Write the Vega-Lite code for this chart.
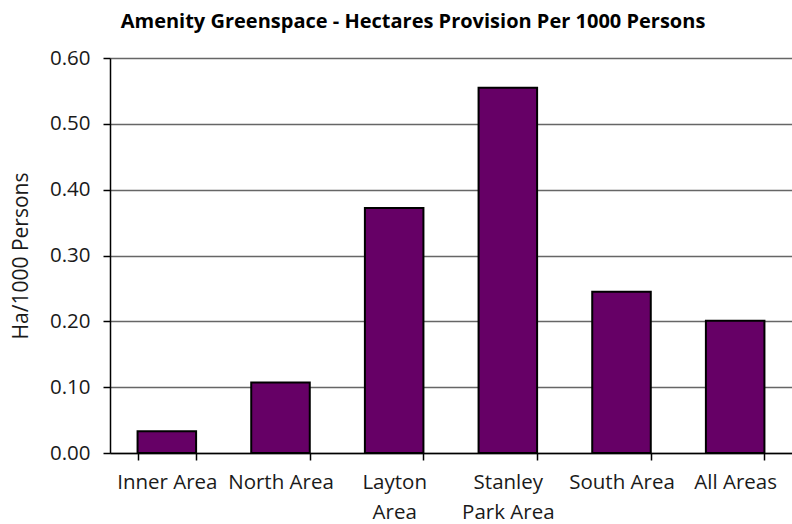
{
  "$schema": "https://vega.github.io/schema/vega-lite/v6.json",
  "width": 682,
  "height": 395,
  "autosize": {"type": "none"},
  "padding": {"left": 110, "top": 58, "right": 0, "bottom": 71},
  "background": "white",
  "title": {
    "text": "Amenity Greenspace - Hectares Provision Per 1000 Persons",
    "font": "Open Sans",
    "fontSize": 20,
    "fontWeight": "bold",
    "color": "#000000",
    "anchor": "middle",
    "dx": -38,
    "offset": 16
  },
  "data": {
    "values": [
      {"area": "Inner Area", "ha_per_1000": 0.033},
      {"area": "North Area", "ha_per_1000": 0.107},
      {"area": "Layton Area", "ha_per_1000": 0.372},
      {"area": "Stanley Park Area", "ha_per_1000": 0.555},
      {"area": "South Area", "ha_per_1000": 0.245},
      {"area": "All Areas", "ha_per_1000": 0.201}
    ]
  },
  "mark": {"type": "bar", "color": "#660066", "stroke": "#000000", "strokeWidth": 2},
  "encoding": {
    "x": {
      "field": "area",
      "type": "nominal",
      "sort": null,
      "scale": {"paddingInner": 0.485, "paddingOuter": 0.2425},
      "axis": {
        "title": null,
        "labelAngle": 0,
        "labelFont": "Open Sans",
        "labelFontSize": 20.5,
        "labelColor": "#1a1a1a",
        "labelPadding": 12,
        "labelLineHeight": 30,
        "labelExpr": "datum.value == 'Layton Area' ? ['Layton', 'Area'] : datum.value == 'Stanley Park Area' ? ['Stanley', 'Park Area'] : datum.value",
        "tickBand": "extent",
        "tickSize": 7,
        "tickColor": "#000000",
        "tickWidth": 1.5,
        "domainColor": "#000000",
        "domainWidth": 1.5,
        "grid": false
      }
    },
    "y": {
      "field": "ha_per_1000",
      "type": "quantitative",
      "scale": {"domain": [0, 0.6], "nice": false},
      "axis": {
        "title": "Ha/1000 Persons",
        "titleFont": "Open Sans",
        "titleFontSize": 21,
        "titleFontWeight": "normal",
        "titleColor": "#1a1a1a",
        "titlePadding": 18,
        "values": [0, 0.1, 0.2, 0.3, 0.4, 0.5, 0.6],
        "format": ".2f",
        "labelFont": "Open Sans",
        "labelFontSize": 20.5,
        "labelColor": "#1a1a1a",
        "labelPadding": 13,
        "tickSize": 7,
        "tickColor": "#000000",
        "tickWidth": 1.5,
        "domainColor": "#000000",
        "domainWidth": 1.5,
        "grid": true,
        "gridColor": "#666666",
        "gridWidth": 1.3
      }
    }
  },
  "config": {"view": {"stroke": null}}
}
